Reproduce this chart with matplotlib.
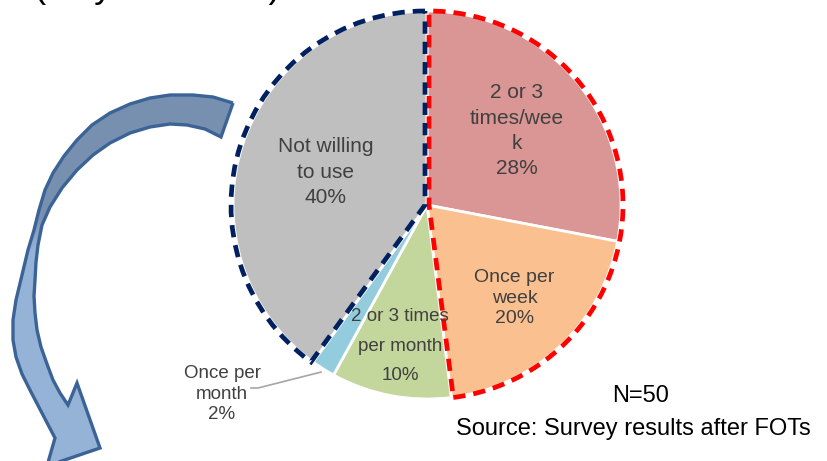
import numpy as np
import matplotlib
matplotlib.use('Agg')
import matplotlib.pyplot as plt
from matplotlib.patches import Wedge, Polygon
import matplotlib.colors as mcolors

plt.rcParams['font.family'] = ['Liberation Sans', 'DejaVu Sans']

# ---- data ----
categories = ['2 or 3\ntimes/wee\nk', 'Once per\nweek', '2 or 3 times\nper month',
              'Once per\nmonth', 'Not willing\nto use']
values = [28, 20, 10, 2, 40]
colors = ['#D99694', '#FAC090', '#C3D69B', '#93CDDD', '#BFBFBF']
note_n = 'N=50'
note_source = 'Source: Survey results after FOTs'
title_tail = '(only residents)'

# ---- figure in pixel units ----
W, H = 827, 461
fig = plt.figure(figsize=(W / 100, H / 100), dpi=100)
ax = fig.add_axes([0, 0, 1, 1])


def P(x, y):
    return (x, H - y)


cx, cy = P(427, 205)
R = 194

wedges, _ = ax.pie(values, colors=colors, startangle=90, counterclock=False,
                   center=(cx, cy), radius=R, frame=True,
                   wedgeprops=dict(edgecolor='white', linewidth=2))

# dashed group outlines
dash = (0, (2.6, 1.7))
red = Wedge((cx + 2, cy), R, wedges[1].theta1, wedges[0].theta2, fill=False,
            edgecolor='#FF0000', linewidth=3.4, linestyle=dash, zorder=5)
navy = Wedge((cx - 2, cy), R, wedges[4].theta1, wedges[4].theta2, fill=False,
             edgecolor='#002060', linewidth=3.4, linestyle=dash, zorder=6)
ax.add_patch(red)
ax.add_patch(navy)

# labels
label_r = [0.60, 0.66, 0.74, None, 0.55]
label_fs = [15, 14, 13.5, 13.5, 15]
label_ls = [1.42, 1.26, 1.95, 1.25, 1.45]
txt_col = '#404040'
for i, (w, cat, v) in enumerate(zip(wedges, categories, values)):
    mid = np.deg2rad((w.theta1 + w.theta2) / 2)
    s = f'{cat}\n{v}%'
    if label_r[i] is not None:
        x = cx + label_r[i] * R * np.cos(mid)
        y = cy + label_r[i] * R * np.sin(mid)
        ax.text(x, y, s, ha='center', va='center', fontsize=label_fs[i],
                color=txt_col, linespacing=label_ls[i], zorder=8)
    else:
        x0 = cx + 1.02 * R * np.cos(mid)
        y0 = cy + 1.02 * R * np.sin(mid)
        ex, ey = P(258, 388)
        ax.plot([x0, ex, ex - 7], [y0, ey, ey], color='#A6A6A6', lw=1.2, zorder=7)
        lx, ly = P(222, 394)
        ax.text(lx, ly, s, ha='center', va='center', fontsize=label_fs[i],
                color=txt_col, linespacing=label_ls[i], zorder=8)

# notes
ax.text(*P(641, 402), note_n, ha='center', va='baseline', fontsize=17, color='black')
ax.text(*P(633, 435), note_source, ha='center', va='baseline', fontsize=17, color='black')
ax.text(*P(281, -3), title_tail, ha='right', va='baseline', fontsize=26, color='black')

# ---- curved arrow decoration ----
outer = [(233, 103), (213, 97), (193, 95), (170, 95), (150, 98), (130, 104), (110, 113),
         (92, 125), (77, 140), (64, 156), (53, 173), (45, 190), (39, 210), (34, 230),
         (28, 250), (22, 275), (16, 300), (13, 320), (13, 340), (16, 357), (22, 374),
         (31, 392), (43, 415), (55, 438)]
head = [(47, 466), (100, 448), (77, 383)]
inner = [(68, 405), (60, 393), (53, 380), (47, 364), (41, 347), (37, 330), (35, 313),
         (34, 296), (35, 280), (36, 262), (38, 245), (42, 225), (50, 207), (62, 188),
         (77, 170), (93, 155), (110, 143), (130, 133), (150, 127), (170, 124), (187, 125),
         (205, 129), (221, 137)]
pts = [P(x, y) for x, y in outer + head + inner]
arrow = Polygon(pts, closed=True, facecolor='none', edgecolor='#3B6396',
                linewidth=2.4, joinstyle='miter', zorder=4)
ax.add_patch(arrow)

ys = np.linspace(85, 470, 300)
c_top = np.array(mcolors.to_rgb('#7890B0'))
c_bot = np.array(mcolors.to_rgb('#95B3D7'))
t = np.clip((ys - 215) / 35.0, 0, 1)[:, None]
grad = (c_top * (1 - t) + c_bot * t)[:, None, :]
im = ax.imshow(grad, extent=(0, 245, H - 470, H - 85), origin='upper',
               aspect='auto', zorder=3, interpolation='bilinear')
clip = Polygon(pts, closed=True, transform=ax.transData)
im.set_clip_path(clip)

ax.set_xlim(0, W)
ax.set_ylim(0, H)
ax.set_aspect('auto')
ax.axis('off')

fig.savefig('out.png', dpi=100)
